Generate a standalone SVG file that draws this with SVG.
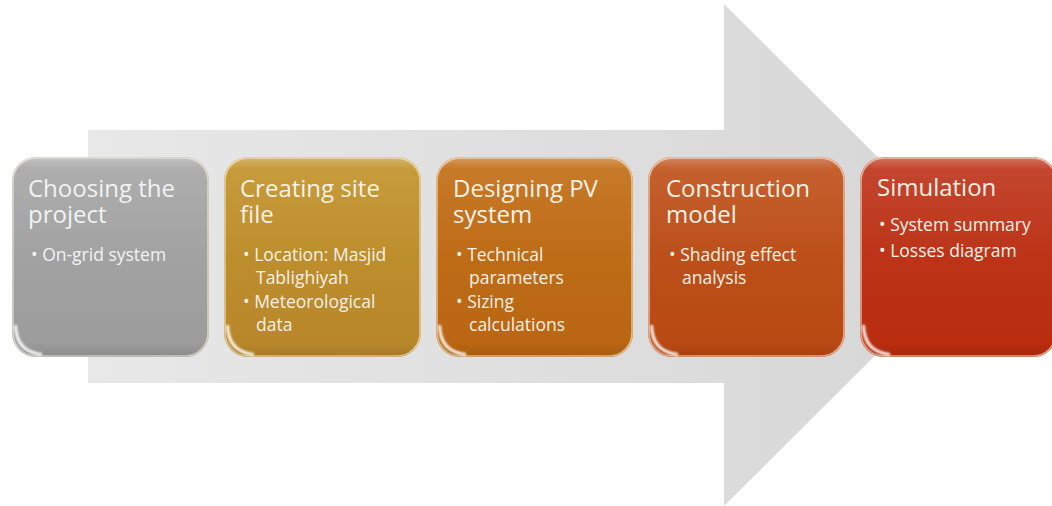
<svg xmlns="http://www.w3.org/2000/svg" width="1052" height="506" viewBox="0 0 1052 506">
  <defs>
    <linearGradient id="arrowFill" x1="0" y1="0" x2="1" y2="0">
      <stop offset="0" stop-color="#e8e8e8"/>
      <stop offset="1" stop-color="#d6d6d6"/>
    </linearGradient>
    <linearGradient id="gGray" x1="0" y1="0" x2="0" y2="1">
      <stop offset="0" stop-color="#a9a9a9"/>
      <stop offset="1" stop-color="#9b9b9b"/>
    </linearGradient>
    <linearGradient id="gGold" x1="0" y1="0" x2="0" y2="1">
      <stop offset="0" stop-color="#c4962f"/>
      <stop offset="1" stop-color="#b7862a"/>
    </linearGradient>
    <linearGradient id="gOrange" x1="0" y1="0" x2="0" y2="1">
      <stop offset="0" stop-color="#c4721b"/>
      <stop offset="1" stop-color="#b96512"/>
    </linearGradient>
    <linearGradient id="gRust" x1="0" y1="0" x2="0" y2="1">
      <stop offset="0" stop-color="#c15722"/>
      <stop offset="1" stop-color="#b84812"/>
    </linearGradient>
    <linearGradient id="gRed" x1="0" y1="0" x2="0" y2="1">
      <stop offset="0" stop-color="#c03b22"/>
      <stop offset="1" stop-color="#b92c0e"/>
    </linearGradient>
    <!-- glossy top band -->
    <linearGradient id="sheen" x1="0" y1="0" x2="0" y2="1">
      <stop offset="0" stop-color="#ffffff" stop-opacity="0.30"/>
      <stop offset="0.06" stop-color="#ffffff" stop-opacity="0.06"/>
      <stop offset="0.5" stop-color="#ffffff" stop-opacity="0"/>
      <stop offset="0.93" stop-color="#000000" stop-opacity="0"/>
      <stop offset="1" stop-color="#000000" stop-opacity="0.10"/>
    </linearGradient>
    <filter id="soft" x="-10%" y="-10%" width="120%" height="120%">
      <feGaussianBlur stdDeviation="0.9"/>
    </filter>
    <!-- one box shell, reused by every step -->
    <g id="shell">
      <rect x="0" y="0" width="197" height="200" rx="24" fill="url(#sheen)"/>
      <rect x="1" y="1" width="195" height="198" rx="23" fill="none" stroke="#fff4e0" stroke-opacity="0.6" stroke-width="1.6"/>
      <path d="M3.5 168 Q4 195 30 197.5" fill="none" stroke="#ffffff" stroke-width="3" stroke-opacity="0.95" filter="url(#soft)"/>
      <path d="M30 3 L167 3" fill="none" stroke="#ffffff" stroke-width="2" stroke-opacity="0.35" filter="url(#soft)"/>
    </g>
  </defs>
  <style>
    .title { font-family: "Open Sans", "Noto Sans", sans-serif; font-size: 24px; fill: #f8f1e6; }
    .item { font-family: "Open Sans", "Noto Sans", sans-serif; font-size: 17.5px; fill: #f8f1e6; }
    .grayText { fill: #f2f2f2; }
  </style>

  <rect width="1052" height="506" fill="#ffffff"/>

  <!-- big process arrow in the background -->
  <g id="connectors">
    <path d="M88 130 L724 130 L724 4 L976 255 L724 506 L724 383 L88 383 Z" fill="url(#arrowFill)"/>
  </g>

  <g id="step1">
    <rect x="12" y="157" width="197" height="200" rx="24" fill="url(#gGray)"/>
    <use href="#shell" x="12" y="157"/>
    <text class="title grayText" x="28" y="197">Choosing the<tspan x="28" dy="26">project</tspan></text>
    <text class="item grayText" x="31" y="261">• On-grid system</text>
  </g>

  <g id="step2">
    <rect x="224" y="157" width="197" height="200" rx="24" fill="url(#gGold)"/>
    <use href="#shell" x="224" y="157"/>
    <text class="title" x="240" y="197">Creating site<tspan x="240" dy="26">file</tspan></text>
    <text class="item" x="243" y="261">• Location: Masjid<tspan x="256" dy="23">Tablighiyah</tspan></text>
    <text class="item" x="243" y="308">• Meteorological<tspan x="256" dy="23">data</tspan></text>
  </g>

  <g id="step3">
    <rect x="436" y="157" width="197" height="200" rx="24" fill="url(#gOrange)"/>
    <use href="#shell" x="436" y="157"/>
    <text class="title" x="453" y="197">Designing PV<tspan x="453" dy="26">system</tspan></text>
    <text class="item" x="456" y="261">• Technical<tspan x="469" dy="23">parameters</tspan></text>
    <text class="item" x="456" y="308">• Sizing<tspan x="469" dy="23">calculations</tspan></text>
  </g>

  <g id="step4">
    <rect x="648" y="157" width="197" height="200" rx="24" fill="url(#gRust)"/>
    <use href="#shell" x="648" y="157"/>
    <text class="title" x="666" y="197">Construction<tspan x="666" dy="26">model</tspan></text>
    <text class="item" x="669" y="261">• Shading effect<tspan x="682" dy="23">analysis</tspan></text>
  </g>

  <g id="step5">
    <rect x="860" y="157" width="197" height="200" rx="24" fill="url(#gRed)"/>
    <use href="#shell" x="860" y="157"/>
    <text class="title" x="877" y="196">Simulation</text>
    <text class="item" x="879" y="231">• System summary</text>
    <text class="item" x="879" y="257">• Losses diagram</text>
  </g>
</svg>
